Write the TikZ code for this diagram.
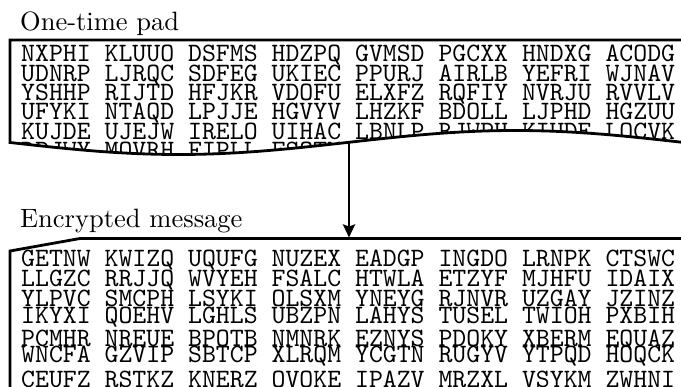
\documentclass[tikz,border=0pt]{standalone}
\usepackage{graphicx}
\usetikzlibrary{arrows.meta}
\newcommand\sk[1]{\scalebox{2.65}{#1}}
\begin{document}
\begin{tikzpicture}[x=1pt,y=1pt,
  frame/.style={line width=2.8pt, line join=miter, draw=black},
  ttrow/.style={inner sep=0pt, anchor=base west, font=\ttfamily},
  ttl/.style={inner sep=0pt, anchor=base west}]
\useasboundingbox (0,0) rectangle (681,-387);
% titles
\node[ttl] (tpad) at (20,-30.5) {\sk{One-time pad}};
\node[ttl] (tenc) at (20,-228) {\sk{Encrypted message}};
% pad text clipped
\begin{scope}
\clip (700,-40) -- (10,-40) -- (10,-142.5) sin (178.5,-154.5) cos (347,-142.5) sin (515.5,-130.5) cos (684,-142.5) -- (700,-142.5) -- cycle;
\node[ttrow] (p1) at (21,-62)    {\sk{NXPHI KLUUO DSFMS HDZPQ GVMSD PGCXX HNDXG ACODG}};
\node[ttrow] (p2) at (21,-81.3)  {\sk{UDNRP LJRQC SDFEG UKIEC PPURJ AIRLB YEFRI WJNAV}};
\node[ttrow] (p3) at (21,-100.6) {\sk{YSHHP RIJTD HFJKR VDOFU ELXFZ RQFIY NVRJU RVVLV}};
\node[ttrow] (p4) at (21,-119.9) {\sk{UFYKI NTAQD LPJJE HGVYV LHZKF BDOLL LJPHD HGZUU}};
\node[ttrow] (p5) at (21,-139.2) {\sk{KUJDE UJEJW IRELO UIHAC LBNLP RJWPH KIUDE LOCVK}};
\node[ttrow] (p6) at (21,-158.5) {\sk{RPJWY MOVRH FIPLL FSQTM}};
\end{scope}
% pad outline
\draw[frame] (700,-40) -- (10,-40) -- (10,-142.5) sin (178.5,-154.5) cos (347,-142.5) sin (515.5,-130.5) cos (684,-142.5) -- (684,-40);
% encrypted frame
\draw[frame] (700,-238.5) -- (80,-238.5) -- (10,-251) -- (10,-400);
% encrypted text
\node[ttrow] (e1) at (21,-267)   {\sk{GETNW KWIZQ UQUFG NUZEX EADGP INGDO LRNPK CTSWC}};
\node[ttrow] (e2) at (21,-287)   {\sk{LLGZC RRJJQ WVYEH FSALC HTWLA ETZYF MJHFU IDAIX}};
\node[ttrow] (e3) at (21,-306.5) {\sk{YLPVC SMCPH LSYKI OLSXM YNEYG RJNVR UZGAY JZINZ}};
\node[ttrow] (e4) at (21,-323.5) {\sk{IKYXI QOEHV LGHLS UBZPN LAHYS TUSEL TWIOH PXBIH}};
\node[ttrow] (e5) at (21,-346.5) {\sk{PCMHR NREUE BPOTB NMNRK EZNYS PDOKY XBERM EQUAZ}};
\node[ttrow] (e6) at (21,-363)   {\sk{WNCFA GZVIP SBTCP XLRQM YCGTN RUGYV YTPQD HOQCK}};
\node[ttrow] (e7) at (21,-387.5) {\sk{CEUFZ RSTKZ KNERZ OVOKE IPAZV MRZXL VSYKM ZWHNI}};
% arrow
\coordinate (padS) at (349,-142.5);
\coordinate (encN) at (349,-237.5);
\draw[line width=2.8pt, -{Stealth[length=13pt, width=12pt, inset=2pt]}] (padS) -- (encN);
\end{tikzpicture}
\end{document}
